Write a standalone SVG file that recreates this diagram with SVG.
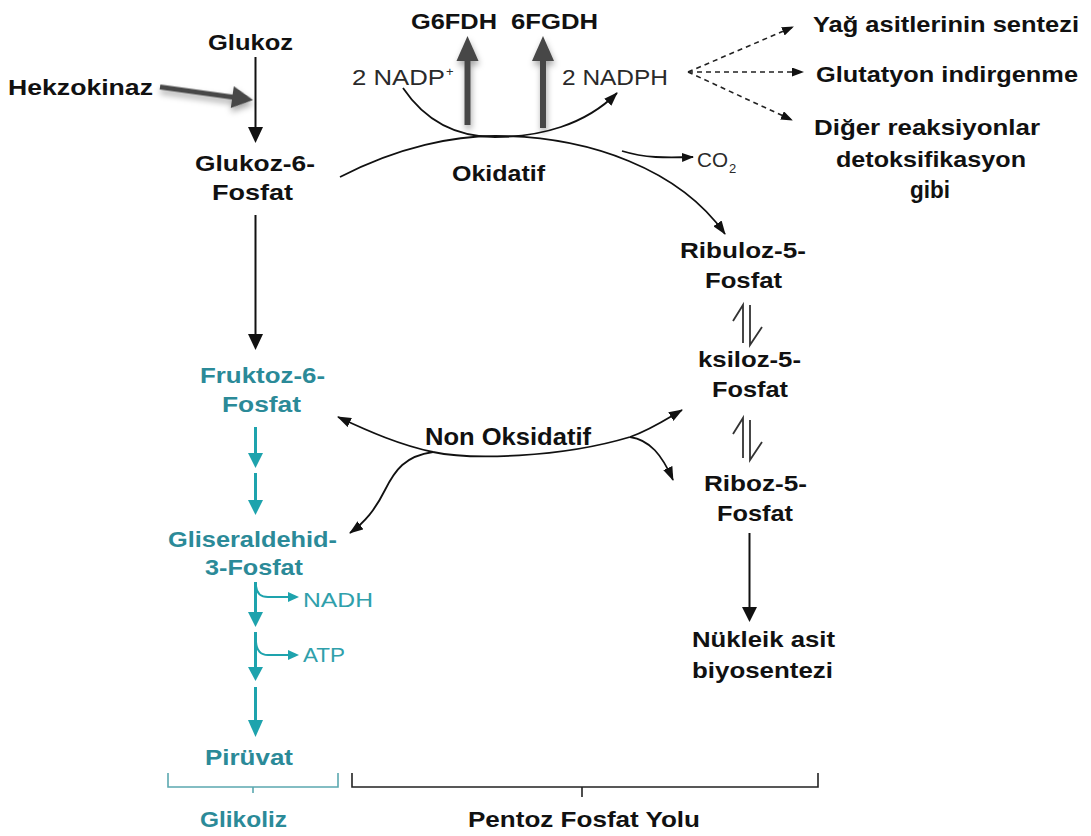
<svg xmlns="http://www.w3.org/2000/svg" width="1091" height="836" viewBox="0 0 1091 836">
<style>
.b{font-family:"Liberation Sans",Arial,sans-serif;font-weight:bold;font-size:22px;fill:#111}
.r{font-family:"Liberation Sans",Arial,sans-serif;font-size:22px;fill:#2a2a2a}
.tb{font-family:"Liberation Sans",Arial,sans-serif;font-weight:bold;font-size:22px;fill:#2b8a98}
.tr{font-family:"Liberation Sans",Arial,sans-serif;font-size:21px;fill:#2fa0ab}
.ln{fill:none;stroke:#111;stroke-width:1.8}
.ds{fill:none;stroke:#222;stroke-width:1.6;stroke-dasharray:5 4}
.tl{fill:none;stroke:#1ea3ad;stroke-width:3}
.tf{fill:#1ea3ad}
.hp{fill:none;stroke:#333;stroke-width:1.8}
.gr{fill:#464646}
</style>
<defs>
<marker id="ah" viewBox="0 0 14 10" refX="13" refY="5" markerWidth="14" markerHeight="10" markerUnits="userSpaceOnUse" orient="auto"><path d="M0,0 L14,5 L0,10 z" fill="#111"/></marker>
<marker id="ahs" viewBox="0 0 12 9" refX="11" refY="4.5" markerWidth="12" markerHeight="9" markerUnits="userSpaceOnUse" orient="auto"><path d="M0,0 L12,4.5 L0,9 z" fill="#111"/></marker>
<filter id="sh" x="-30%" y="-50%" width="160%" height="220%"><feDropShadow dx="1" dy="4" stdDeviation="3" flood-color="#000" flood-opacity="0.35"/></filter>
</defs>
<rect width="1091" height="836" fill="#fff"/>

<g id="connectors">
<!-- Glukoz -> G6P -->
<line x1="255.5" y1="57" x2="255.5" y2="129" stroke="#111" stroke-width="2"/>
<polygon points="248,127 263,127 255.5,143" fill="#111"/>
<!-- Hekzokinaz enzyme arrow -->
<g transform="rotate(7.96 160 87)" filter="url(#sh)">
<rect x="160" y="84.5" width="75" height="5" class="gr"/>
<polygon points="233,76 254,87 233,98" class="gr"/>
</g>
<!-- G6P -> F6P -->
<line x1="255.5" y1="215" x2="255.5" y2="336" stroke="#111" stroke-width="2"/>
<polygon points="248,334 263,334 255.5,350" fill="#111"/>
<!-- oxidative arc -->
<path class="ln" d="M340,177 C400,146 455,136 495,136 C590,136 680,170 725,234" marker-end="url(#ah)"/>
<path class="ln" d="M622,151 C645,158 665,158 693,157" marker-end="url(#ahs)"/>
<!-- NADP arc -->
<path class="ln" d="M403,88 C430,128 465,137 495,137 C540,137 585,125 617,93" marker-end="url(#ah)"/>
<!-- enzyme arrows -->
<g filter="url(#sh)">
<rect x="464.5" y="58" width="6" height="67" class="gr"/>
<polygon points="456.5,61 478.5,61 467.5,36" class="gr"/>
<rect x="540" y="58" width="6" height="70" class="gr"/>
<polygon points="532,61 554,61 543,36" class="gr"/>
</g>
<!-- NADPH dashed -->
<path class="ds" d="M688,72 L793,27" marker-end="url(#ahs)"/>
<path class="ds" d="M688,72 L803,72" marker-end="url(#ahs)"/>
<path class="ds" d="M688,72 L792,120" marker-end="url(#ahs)"/>
<!-- Non oxidative -->
<path class="ln" d="M433,452 C400,445 370,432 338,417" marker-end="url(#ah)"/>
<path class="ln" d="M433,452 C470,460 560,458 630,437 C650,430 665,420 682,410" marker-end="url(#ah)"/>
<path class="ln" d="M433,452 C405,456 395,470 385,490 C375,510 365,522 350,533" marker-end="url(#ah)"/>
<path class="ln" d="M630,437 C650,440 662,455 673,480" marker-end="url(#ah)"/>
<!-- equilibrium harpoons -->
<path class="hp" d="M743,343 V305 L733,321"/>
<path class="hp" d="M750,305 V345 L762,327"/>
<path class="hp" d="M743,458 V418 L733,434"/>
<path class="hp" d="M750,420 V460 L762,442"/>
<!-- Riboz -> Nukleik -->
<line x1="749.5" y1="533" x2="749.5" y2="609" stroke="#111" stroke-width="2"/>
<polygon points="742,607 757,607 749.5,622" fill="#111"/>
<!-- glycolysis teal -->
<line class="tl" x1="255.5" y1="427" x2="255.5" y2="455"/>
<polygon class="tf" points="248,453 263,453 255.5,468"/>
<line class="tl" x1="255.5" y1="473" x2="255.5" y2="502"/>
<polygon class="tf" points="248,500 263,500 255.5,515"/>
<line class="tl" x1="255.5" y1="582" x2="255.5" y2="614"/>
<polygon class="tf" points="248,612 263,612 255.5,627"/>
<path class="tl" style="stroke-width:2" d="M256,586 Q257,597 268,597 L290,597"/>
<polygon class="tf" points="288,592 288,602 299,597"/>
<line class="tl" x1="255.5" y1="632" x2="255.5" y2="669"/>
<polygon class="tf" points="248,667 263,667 255.5,681"/>
<path class="tl" style="stroke-width:2" d="M256,642 Q257,655 268,655 L290,655"/>
<polygon class="tf" points="288,650 288,660 299,655"/>
<line class="tl" x1="255.5" y1="687" x2="255.5" y2="722"/>
<polygon class="tf" points="248,720 263,720 255.5,737"/>
<!-- brackets -->
<path d="M168,773 V787 H338 V773 M253,787 V793" fill="none" stroke="#5ba8b0" stroke-width="1.6"/>
<path d="M352,773 V787 H818 V773 M582,787 V797" fill="none" stroke="#222" stroke-width="1.6"/>
</g>

<g id="glukoz"><text class="b" x="208" y="50" textLength="85" lengthAdjust="spacingAndGlyphs">Glukoz</text></g>
<g id="hekzokinaz"><text class="b" x="8" y="95" textLength="145" lengthAdjust="spacingAndGlyphs">Hekzokinaz</text></g>
<g id="glukoz6fosfat">
<text class="b" x="195" y="171" textLength="120" lengthAdjust="spacingAndGlyphs">Glukoz-6-</text>
<text class="b" x="212" y="200" textLength="81" lengthAdjust="spacingAndGlyphs">Fosfat</text>
</g>
<g id="enzymes">
<text class="b" x="411" y="29" textLength="86" lengthAdjust="spacingAndGlyphs">G6FDH</text>
<text class="b" x="511" y="29" textLength="87" lengthAdjust="spacingAndGlyphs">6FGDH</text>
</g>
<g id="nadp">
<text class="r" x="352" y="85" textLength="93" lengthAdjust="spacingAndGlyphs">2 NADP</text>
<text class="r" x="446" y="76" style="font-size:13px">+</text>
</g>
<g id="nadph"><text class="r" x="562" y="85" textLength="106" lengthAdjust="spacingAndGlyphs">2 NADPH</text></g>
<g id="okidatif"><text class="b" x="452" y="181" textLength="93" lengthAdjust="spacingAndGlyphs">Okidatif</text></g>
<g id="co2">
<text class="r" x="697" y="167" style="font-size:20px" textLength="31" lengthAdjust="spacingAndGlyphs">CO</text>
<text class="r" x="729" y="173" style="font-size:13px">2</text>
</g>
<g id="yag"><text class="b" x="813" y="32" textLength="266" lengthAdjust="spacingAndGlyphs">Yağ asitlerinin sentezi</text></g>
<g id="glutatyon"><text class="b" x="816" y="82" textLength="262" lengthAdjust="spacingAndGlyphs">Glutatyon indirgenme</text></g>
<g id="diger">
<text class="b" x="814" y="135" textLength="226" lengthAdjust="spacingAndGlyphs">Diğer reaksiyonlar</text>
<text class="b" x="836" y="167" textLength="190" lengthAdjust="spacingAndGlyphs">detoksifikasyon</text>
<text class="b" x="910" y="198" style="font-size:24px" textLength="40" lengthAdjust="spacingAndGlyphs">gibi</text>
</g>
<g id="ribuloz">
<text class="b" x="680" y="258" textLength="126" lengthAdjust="spacingAndGlyphs">Ribuloz-5-</text>
<text class="b" x="705" y="288" textLength="77" lengthAdjust="spacingAndGlyphs">Fosfat</text>
</g>
<g id="ksiloz">
<text class="b" x="698" y="367" textLength="103" lengthAdjust="spacingAndGlyphs">ksiloz-5-</text>
<text class="b" x="712" y="397" textLength="76" lengthAdjust="spacingAndGlyphs">Fosfat</text>
</g>
<g id="riboz">
<text class="b" x="704" y="491" textLength="103" lengthAdjust="spacingAndGlyphs">Riboz-5-</text>
<text class="b" x="717" y="521" textLength="76" lengthAdjust="spacingAndGlyphs">Fosfat</text>
</g>
<g id="nukleik">
<text class="b" x="692" y="647" textLength="143" lengthAdjust="spacingAndGlyphs">Nükleik asit</text>
<text class="b" x="692" y="678" textLength="141" lengthAdjust="spacingAndGlyphs">biyosentezi</text>
</g>
<g id="nonoksidatif"><text class="b" x="425" y="445" style="font-size:24px" textLength="166" lengthAdjust="spacingAndGlyphs">Non Oksidatif</text></g>
<g id="fruktoz">
<text class="tb" x="200" y="383" textLength="125" lengthAdjust="spacingAndGlyphs">Fruktoz-6-</text>
<text class="tb" x="222" y="412" textLength="79" lengthAdjust="spacingAndGlyphs">Fosfat</text>
</g>
<g id="gliseraldehid">
<text class="tb" x="168" y="547" textLength="169" lengthAdjust="spacingAndGlyphs">Gliseraldehid-</text>
<text class="tb" x="205" y="575" textLength="98" lengthAdjust="spacingAndGlyphs">3-Fosfat</text>
</g>
<g id="nadh"><text class="tr" x="303" y="607" textLength="70" lengthAdjust="spacingAndGlyphs">NADH</text></g>
<g id="atp"><text class="tr" x="303" y="662" textLength="42" lengthAdjust="spacingAndGlyphs">ATP</text></g>
<g id="piruvat"><text class="tb" x="205" y="765" textLength="88" lengthAdjust="spacingAndGlyphs">Pirüvat</text></g>
<g id="glikoliz"><text class="tb" x="200" y="827" textLength="87" lengthAdjust="spacingAndGlyphs">Glikoliz</text></g>
<g id="pentoz"><text class="b" x="468" y="827" textLength="232" lengthAdjust="spacingAndGlyphs">Pentoz Fosfat Yolu</text></g>
</svg>
